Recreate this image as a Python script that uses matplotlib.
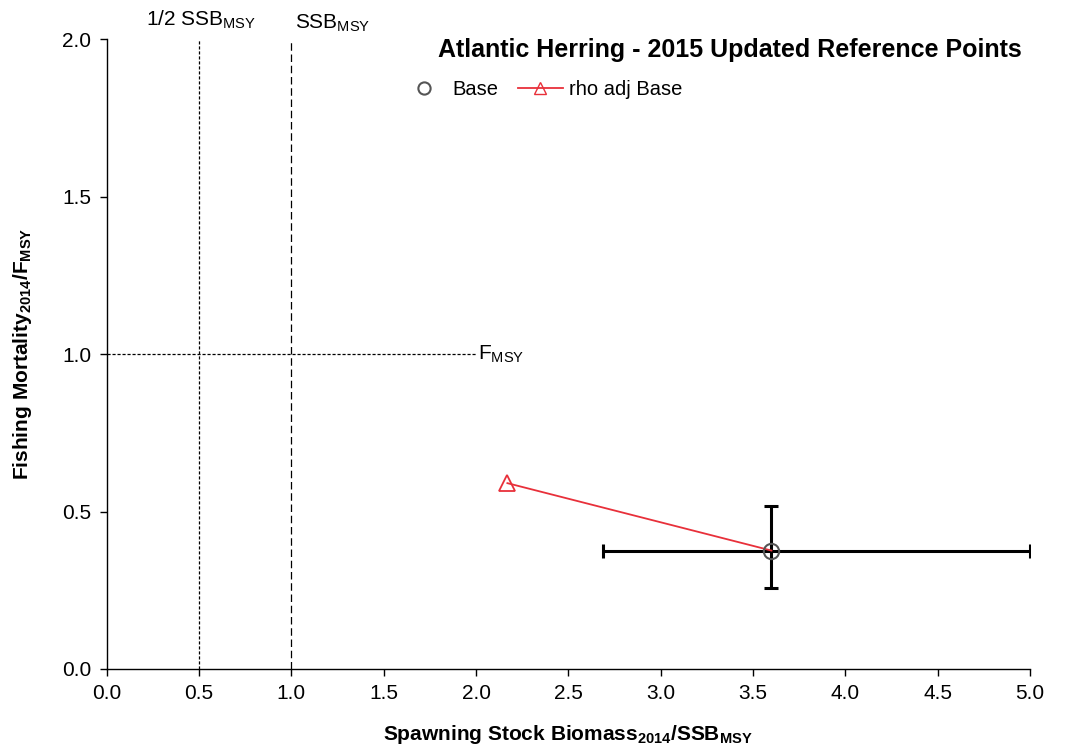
import matplotlib
matplotlib.use("Agg")
import matplotlib.pyplot as plt

plt.rcParams['font.family'] = ['Liberation Sans', 'DejaVu Sans']
plt.rcParams['mathtext.fontset'] = 'custom'
plt.rcParams['mathtext.rm'] = 'Liberation Sans'
plt.rcParams['mathtext.bf'] = 'Liberation Sans:bold'
plt.rcParams['mathtext.it'] = 'Liberation Sans:italic'

# Data
base_ssb = [3.60]
base_f = [0.376]
ssb_ci = [2.69, 5.0]
f_ci = [0.258, 0.518]
rho_ssb = [2.17, 3.60]
rho_f = [0.59, 0.376]
xticks = [0.0, 0.5, 1.0, 1.5, 2.0, 2.5, 3.0, 3.5, 4.0, 4.5, 5.0]
yticks = [0.0, 0.5, 1.0, 1.5, 2.0]
half_ssbmsy = 0.5
ssbmsy = 1.0
fmsy = 1.0

fig = plt.figure(figsize=(10.68, 7.51), dpi=100)
ax = fig.add_axes([0.0999, 0.1092, 0.8645, 0.8388])

ax.set_xlim(0, 5)
ax.set_ylim(0, 2)

# reference lines
ax.plot([half_ssbmsy, half_ssbmsy], [0, 2], color='black', lw=0.9, dashes=(2.5, 1.5))
ax.plot([ssbmsy, ssbmsy], [0, 2], color='black', lw=0.9, dashes=(6, 3))
ax.plot([0, 2.0], [fmsy, fmsy], color='black', lw=0.9, dashes=(2.5, 1.5))

ax.text(half_ssbmsy + 0.01, 2.025, r'1/2 SSB$_{\rm MSY}$', ha='center', va='bottom', fontsize=15)
ax.text(ssbmsy + 0.02, 2.015, r'SSB$_{\rm MSY}$', ha='left', va='bottom', fontsize=15)
ax.text(2.01, fmsy, r'F$_{\rm MSY}$', ha='left', va='center', fontsize=15)

# error bars
ax.errorbar(base_ssb, base_f,
            xerr=[[base_ssb[0] - ssb_ci[0]], [ssb_ci[1] - base_ssb[0]]],
            yerr=[[base_f[0] - f_ci[0]], [f_ci[1] - base_f[0]]],
            fmt='none', ecolor='black', elinewidth=2.2, capsize=5, capthick=2.2, zorder=3)

# rho adj line
ax.plot(rho_ssb[:1], rho_f[:1], linestyle='none', marker='^', markersize=11,
        markerfacecolor='none', markeredgecolor='#e8303a', markeredgewidth=1.3, zorder=4)
ax.plot(rho_ssb, rho_f, color='#e8303a', lw=1.3, zorder=4)
rho_handle, = ax.plot([], [], color='#e8303a', lw=1.3, marker='^', markersize=10,
                      markerfacecolor='none', markeredgecolor='#e8303a', label='rho adj Base')
base_handle, = ax.plot(base_ssb, base_f, linestyle='none', marker='o', markersize=11,
                       markerfacecolor='none', markeredgecolor='#555555', markeredgewidth=1.5,
                       zorder=5, label='Base')

leg = ax.legend(handles=[base_handle, rho_handle], loc='upper left',
                bbox_to_anchor=(0.3, 0.964), ncol=2, frameon=False, fontsize=14.5,
                handlelength=2.2, handletextpad=0.3, columnspacing=1.0,
                markerscale=0.8)

ax.set_title('Atlantic Herring - 2015 Updated Reference Points', fontsize=18,
             fontweight='bold', x=0.675, y=0.958, ha='center')

ax.set_xticks(xticks)
ax.set_yticks(yticks)
ax.set_xticklabels([f'{v:.1f}' for v in xticks], fontsize=15)
ax.set_yticklabels([f'{v:.1f}' for v in yticks], fontsize=15)
ax.tick_params(direction='out', length=5, width=1, pad=6)

for s in ['top', 'right']:
    ax.spines[s].set_visible(False)
for s in ['left', 'bottom']:
    ax.spines[s].set_linewidth(1.0)

ax.set_xlabel(r'$\mathbf{Spawning\ Stock\ Biomass_{2014}/SSB_{MSY}}$', fontsize=15, labelpad=14)
ax.set_ylabel(r'$\mathbf{Fishing\ Mortality_{2014}/F_{MSY}}$', fontsize=15, labelpad=20)

fig.savefig('out.png', dpi=100)
